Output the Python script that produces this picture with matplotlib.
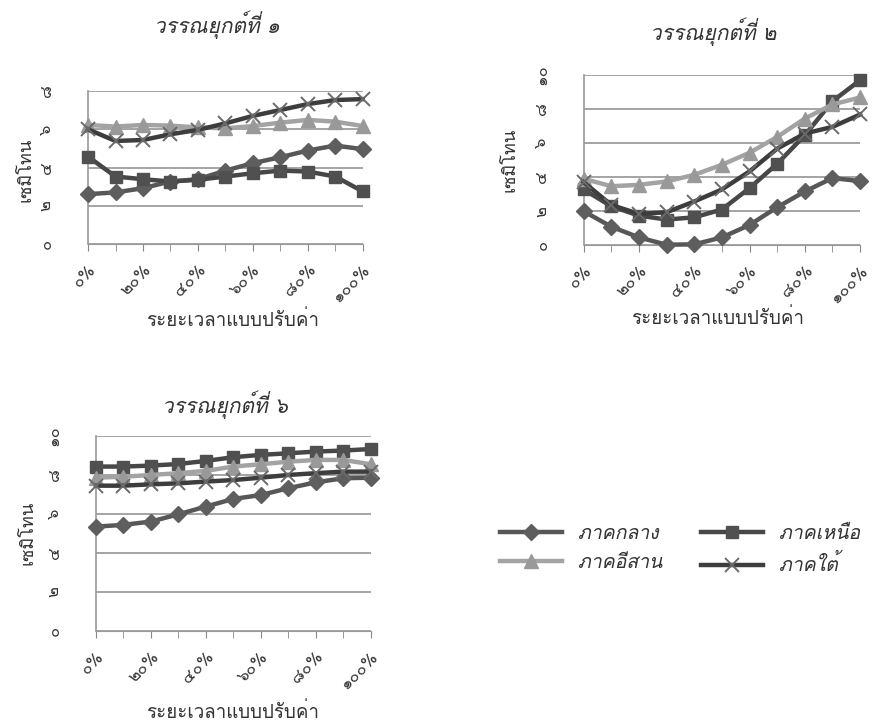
import matplotlib
matplotlib.use("Agg")
import matplotlib.pyplot as plt
from matplotlib import font_manager
from matplotlib.ft2font import FT2Font
from matplotlib.lines import Line2D


def find_thai_font():
    # pick the first installed family that has Thai letters and digits
    names = []
    for f in font_manager.fontManager.ttflist:
        try:
            cmap = FT2Font(f.fname).get_charmap()
        except Exception:
            continue
        if 0x0E01 in cmap and 0x0E51 in cmap and 0x0E44 in cmap:
            names.append(f.name)
    return names[0] if names else None


thai = find_thai_font()
families = [thai, 'DejaVu Sans'] if thai else ['DejaVu Sans']
plt.rcParams['font.family'] = families

# data
pct = [0, 10, 20, 30, 40, 50, 60, 70, 80, 90, 100]
tick_labels = ['๐%', '๒๐%', '๔๐%', '๖๐%', '๘๐%', '๑๐๐%']
region_names = ['ภาคกลาง', 'ภาคเหนือ', 'ภาคอีสาน', 'ภาคใต้']

tone1_central = [2.61, 2.70, 2.92, 3.27, 3.39, 3.84, 4.23, 4.54, 4.89, 5.15, 4.96]
tone1_north = [4.57, 3.53, 3.39, 3.27, 3.36, 3.53, 3.70, 3.84, 3.79, 3.53, 2.75]
tone1_isan = [6.23, 6.14, 6.23, 6.19, 6.10, 6.05, 6.17, 6.35, 6.49, 6.40, 6.17]
tone1_south = [6.00, 5.39, 5.44, 5.74, 5.97, 6.31, 6.70, 7.01, 7.32, 7.53, 7.58]

tone2_central = [1.99, 1.08, 0.45, 0.02, 0.04, 0.45, 1.18, 2.22, 3.15, 3.94, 3.76]
tone2_north = [3.27, 2.28, 1.73, 1.50, 1.63, 2.09, 3.35, 4.78, 6.46, 8.46, 9.70]
tone2_isan = [3.90, 3.46, 3.54, 3.74, 4.13, 4.72, 5.43, 6.36, 7.44, 8.27, 8.68]
tone2_south = [3.70, 2.36, 1.83, 1.93, 2.56, 3.27, 4.33, 5.67, 6.56, 6.95, 7.68]

tone6_central = [5.35, 5.44, 5.61, 5.98, 6.38, 6.77, 6.97, 7.32, 7.62, 7.83, 7.86]
tone6_north = [8.43, 8.43, 8.48, 8.56, 8.72, 8.91, 9.03, 9.11, 9.20, 9.25, 9.33]
tone6_isan = [7.86, 7.91, 8.00, 8.09, 8.21, 8.43, 8.55, 8.68, 8.77, 8.77, 8.55]
tone6_south = [7.45, 7.45, 7.52, 7.57, 7.66, 7.74, 7.86, 8.00, 8.09, 8.17, 8.17]

styles = [
    dict(color='#575757', marker='D', markersize=8, mfc='#5e5e5e', mec='#5e5e5e'),
    dict(color='#474747', marker='s', markersize=9, mfc='#505050', mec='#505050'),
    dict(color='#a3a3a3', marker='^', markersize=9.5, mfc='#999999', mec='#999999'),
    dict(color='#3d3d3d', marker='x', markersize=10, mfc='none', mec='#6a6a6a', mew=1.4),
]
LW = 3.2

fig = plt.figure(figsize=(8.75, 7.25), dpi=100)


def panel(rect, series, ymax, title, title_xy, ylab_xy, xlab_xy):
    ax = fig.add_axes(rect)
    draw_order = [2, 0, 1, 3]
    for i in draw_order:
        ax.plot(pct, series[i], linewidth=LW, zorder=3 + i, clip_on=False, **styles[i])
    ax.set_xlim(0, 100)
    ax.set_ylim(0, ymax)
    ax.set_yticks(range(0, ymax + 1, 2))
    thai_digits = str.maketrans('0123456789', '๐๑๒๓๔๕๖๗๘๙')
    ax.set_yticklabels([str(v).translate(thai_digits) for v in range(0, ymax + 1, 2)],
                       rotation=90, va='center', fontsize=12, color='#333333')
    ax.set_xticks(pct[::2])
    ax.set_xticklabels(tick_labels, rotation=45, ha='right', rotation_mode='anchor',
                       fontsize=12, color='#333333')
    ax.set_xticks(pct, minor=True)
    ax.tick_params(axis='x', which='both', length=5, color='#888888', direction='out')
    ax.tick_params(axis='x', which='major', pad=8)
    ax.tick_params(axis='y', length=0, pad=24)
    ax.grid(axis='y', color='#8c8c8c', linewidth=1.1)
    ax.set_axisbelow(True)
    for s in ['top', 'right']:
        ax.spines[s].set_visible(False)
    ax.spines['left'].set_color('#999999')
    ax.spines['bottom'].set_color('#999999')
    ax.spines['left'].set_linewidth(1.2)
    fig.text(title_xy[0], title_xy[1], title, ha='center', va='center',
             fontsize=15, style='italic', color='#333333')
    fig.text(ylab_xy[0], ylab_xy[1], 'เซมิโทน', ha='center', va='center',
             rotation=90, fontsize=13, color='#333333')
    fig.text(xlab_xy[0], xlab_xy[1], 'ระยะเวลาแบบปรับค่า', ha='center', va='center',
             fontsize=13.5, color='#333333')
    return ax


panel([0.1006, 0.6634, 0.314, 0.211],
      [tone1_central, tone1_north, tone1_isan, tone1_south], 8,
      'วรรณยุกต์ที่ ๑', (217 / 875, 1 - 25 / 725), (25 / 875, 1 - 170 / 725),
      (233 / 875, 1 - 320 / 725))
panel([0.667, 0.662, 0.316, 0.2345],
      [tone2_central, tone2_north, tone2_isan, tone2_south], 10,
      'วรรณยุกต์ที่ ๒', (713 / 875, 1 - 32 / 725), (510 / 875, 1 - 160 / 725),
      (718 / 875, 1 - 318 / 725))
panel([0.1097, 0.1297, 0.314, 0.269],
      [tone6_central, tone6_north, tone6_isan, tone6_south], 10,
      'วรรณยุกต์ที่ ๖', (225 / 875, 1 - 405 / 725), (28 / 875, 1 - 533 / 725),
      (233 / 875, 1 - 712 / 725))

handles = [Line2D([], [], linewidth=LW, **styles[i]) for i in range(4)]
order = [0, 2, 1, 3]
leg = fig.legend([handles[i] for i in order], [region_names[i] for i in order],
                 ncol=2, loc='center', bbox_to_anchor=(680 / 875, 1 - 550 / 725),
                 frameon=False, handlelength=3.2, columnspacing=2.0,
                 labelspacing=0.6, prop=dict(size=14, style='italic'))
for t in leg.get_texts():
    t.set_color('#333333')

fig.savefig('out.png', dpi=100)
